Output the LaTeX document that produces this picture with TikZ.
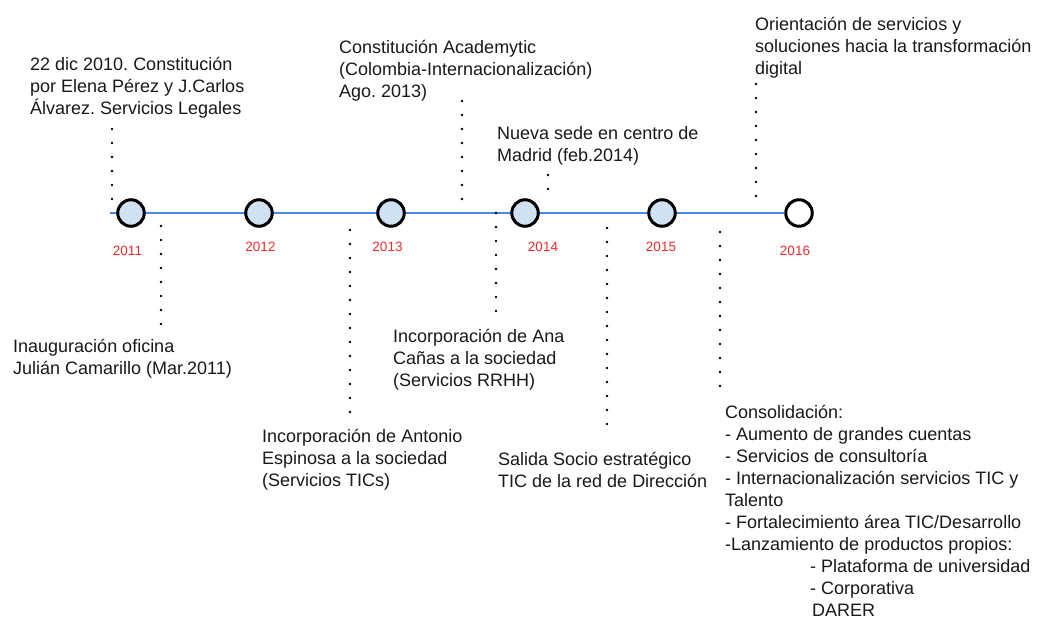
\documentclass[tikz,border=0pt]{standalone}
\usepackage{fontspec}
\setmainfont{Liberation Sans}
\frenchspacing
\definecolor{tlblue}{RGB}{74,134,232}
\definecolor{dotfill}{RGB}{207,226,243}
\definecolor{yearred}{RGB}{238,45,45}
\definecolor{ink}{RGB}{25,25,25}
\tikzset{
  txt/.style={anchor=north west, inner sep=0pt, align=left, text=ink, font=\fontsize{18}{22}\selectfont},
  yr/.style={inner sep=0pt, text=yearred, font=\fontsize{13.5}{13.5}\selectfont},
  dotline/.style={line width=2.9pt, line cap=round, dash pattern=on 0pt off 14pt},
  timeline/.style={draw=tlblue, line width=2.8pt},
  yeardot/.style={circle, draw=black, line width=3pt, fill=dotfill, minimum size=26.5pt, inner sep=0pt},
  enddot/.style={yeardot, fill=white}
}
\begin{document}
\begin{tikzpicture}[x=1pt,y=-1pt]
\useasboundingbox (0,0) rectangle (1039,620);
\fill[white] (0,0) rectangle (1039,620);

% timeline
\coordinate (tl0) at (110,213);
\node[enddot] (c2016) at (799,213) {};
\draw[timeline] (tl0) -- (c2016.west);
\node[yeardot] (c2011) at (131,213) {};
\node[yeardot] (c2012) at (259,213) {};
\node[yeardot] (c2013) at (391,213) {};
\node[yeardot] (c2014) at (525,213) {};
\node[yeardot] (c2015) at (662,213) {};

% years
\node[yr] (y2011) at (127.5,251) {2011};
\node[yr] (y2012) at (260.5,247) {2012};
\node[yr] (y2013) at (387.5,247) {2013};
\node[yr] (y2014) at (543,247) {2014};
\node[yr] (y2015) at (661,247) {2015};
\node[yr] (y2016) at (795,251) {2016};

% texts above
\node[txt] (t1) at (30,56.8) {22 dic 2010. Constitución\\por Elena Pérez y J.Carlos\\Álvarez. Servicios Legales};
\node[txt] (t2) at (339,39.8) {Constitución Academytic\\(Colombia-Internacionalización)\\Ago. 2013)};
\node[txt] (t3) at (497,126) {Nueva sede en centro de\\Madrid (feb.2014)};
\node[txt] (t4) at (755,16.8) {Orientación de servicios y\\soluciones hacia la transformación\\digital};

% texts below
\node[txt] (b1) at (13,338.8) {Inauguración oficina\\Julián Camarillo (Mar.2011)};
\node[txt] (b2) at (262,428.8) {Incorporación de Antonio\\Espinosa a la sociedad\\(Servicios TICs)};
\node[txt] (b3) at (393,328.8) {Incorporación de Ana\\Cañas a la sociedad\\(Servicios RRHH)};
\node[txt] (b4) at (498,451.8) {Salida Socio estratégico\\TIC de la red de Dirección};
\node[txt] (b5) at (725,404.8) {Consolidación:\\
- Aumento de grandes cuentas\\
- Servicios de consultoría\\
- Internacionalización servicios TIC y\\
Talento\\
- Fortalecimiento área TIC/Desarrollo\\
-Lanzamiento de productos propios:\\
\hspace*{85pt}- Plataforma de universidad\\
\hspace*{85pt}- Corporativa\\
\hspace*{87pt}DARER};

% dotted connectors
\coordinate (d1a) at (112,129); \coordinate (d1b) at (112,213);
\coordinate (d2a) at (161,226); \coordinate (d2b) at (161,338);
\coordinate (d3a) at (350,230); \coordinate (d3b) at (350,426);
\coordinate (d4a) at (462,101); \coordinate (d4b) at (462,213);
\coordinate (d5a) at (496,213); \coordinate (d5b) at (496,325);
\coordinate (d6a) at (548,175); \coordinate (d6b) at (548,203);
\coordinate (d7a) at (607,228); \coordinate (d7b) at (607,438);
\coordinate (d8a) at (720,232); \coordinate (d8b) at (720,400);
\coordinate (d9a) at (756,84);  \coordinate (d9b) at (756,210);
\draw[dotline] (d1a) -- (d1b);
\draw[dotline] (d2a) -- (d2b);
\draw[dotline] (d3a) -- (d3b);
\draw[dotline] (d4a) -- (d4b);
\draw[dotline] (d5a) -- (d5b);
\draw[dotline] (d6a) -- (d6b);
\draw[dotline] (d7a) -- (d7b);
\draw[dotline] (d8a) -- (d8b);
\draw[dotline] (d9a) -- (d9b);
\end{tikzpicture}
\end{document}
